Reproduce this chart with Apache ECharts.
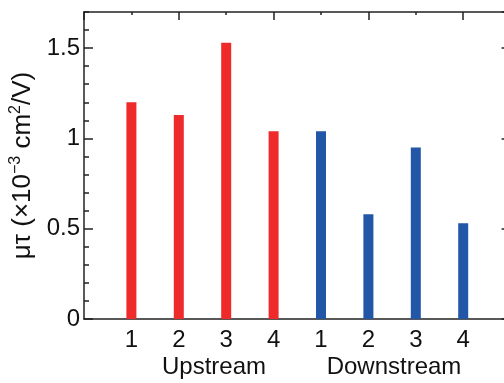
<!DOCTYPE html>
<html>
<head>
    <meta charset="utf-8">
    <title>mu tau</title>
    <script src="https://cdn.jsdelivr.net/npm/echarts@6/dist/echarts.min.js"></script>
    <style>
        html, body { margin: 0; padding: 0; background: #fff; }
        #chart1 { width: 504px; height: 383px; }
    </style>
</head>
<body>
<div id="chart1"></div>
<script type="text/javascript">
    // 数据
    var tickLabels = ['1', '2', '3', '4', '1', '2', '3', '4'];
    var groups = ['Upstream', 'Downstream'];
    var upstream = [1.20, 1.13, 1.53, 1.04];
    var downstream = [1.04, 0.58, 0.95, 0.53];

    var font = 'Liberation Sans, Arial, sans-serif';
    var lineColor = '#222';

    var upData = upstream.map(function (v, i) { return [i + 1, v]; });
    var downData = downstream.map(function (v, i) { return [i + 5, v]; });

    var myChart = echarts.init(document.getElementById('chart1'));

    var option = {
        animation: false,
        grid: { left: 84, right: -6.6, top: 12, bottom: 64, outerBoundsMode: 'none' },
        xAxis: [{
            type: 'value',
            position: 'bottom',
            min: 0, max: 9, interval: 1,
            splitLine: { show: false },
            axisLine: { onZero: false, lineStyle: { color: lineColor, width: 1.5 } },
            axisTick: { show: false },
            axisLabel: {
                color: '#111', fontSize: 24, fontFamily: font, margin: 9,
                formatter: function (v) {
                    return (v >= 1 && v <= 8) ? tickLabels[v - 1] : '';
                }
            }
        }, {
            type: 'value',
            position: 'top',
            min: 0, max: 9, interval: 2,
            splitLine: { show: false },
            axisLine: { onZero: false, lineStyle: { color: lineColor, width: 1.5 } },
            axisTick: { inside: true, length: 8, lineStyle: { color: lineColor, width: 1.5 } },
            minorTick: { show: true, splitNumber: 2, length: 3, lineStyle: { color: lineColor, width: 1.5 } },
            axisLabel: { show: false }
        }],
        yAxis: [{
            type: 'value',
            position: 'left',
            min: 0, max: 1.7, interval: 0.5,
            splitLine: { show: false },
            axisLine: { show: true, onZero: false, lineStyle: { color: lineColor, width: 1.5 } },
            axisTick: { inside: true, length: 9, lineStyle: { color: lineColor, width: 1.5 } },
            axisLabel: {
                color: '#111', fontSize: 24, fontFamily: font, margin: 4,
                showMaxLabel: false,
                formatter: function (v) { return String(v); }
            },
            name: '{a|μτ (×10}{s|−3}{a| cm}{s|2}{a|/V)}',
            nameLocation: 'middle',
            nameRotate: 90,
            nameGap: 32,
            nameTextStyle: {
                rich: {
                    a: { fontSize: 26, fontFamily: font, color: '#111', lineHeight: 30 },
                    s: { fontSize: 16, fontFamily: font, color: '#111', lineHeight: 16, verticalAlign: 'top' }
                }
            }
        }, {
            type: 'value',
            position: 'left',
            min: 0, max: 1.7, interval: 0.1,
            splitLine: { show: false },
            axisLine: { show: false },
            axisTick: { inside: true, length: 5, lineStyle: { color: lineColor, width: 1.5 } },
            axisLabel: { show: false }
        }, {
            type: 'value',
            position: 'right',
            min: 0, max: 1.7, interval: 0.5,
            splitLine: { show: false },
            axisLine: { show: true, onZero: false, lineStyle: { color: lineColor, width: 1.5 } },
            axisTick: { inside: true, length: 9, lineStyle: { color: lineColor, width: 1.5 } },
            axisLabel: { show: false }
        }],
        graphic: [{
            type: 'text', x: 214, y: 367,
            style: { text: groups[0], fontSize: 24, fontFamily: font, fill: '#111', align: 'center', verticalAlign: 'middle' }
        }, {
            type: 'text', x: 394, y: 367,
            style: { text: groups[1], fontSize: 24, fontFamily: font, fill: '#111', align: 'center', verticalAlign: 'middle' }
        }],
        series: [{
            name: groups[0],
            type: 'bar',
            xAxisIndex: 0, yAxisIndex: 0,
            barWidth: 10,
            barGap: '-100%',
            itemStyle: { color: '#ee2a2a' },
            data: upData
        }, {
            name: groups[1],
            type: 'bar',
            xAxisIndex: 0, yAxisIndex: 0,
            barWidth: 10,
            barGap: '-100%',
            itemStyle: { color: '#2256a6' },
            data: downData
        }]
    };
    myChart.setOption(option);
</script>
</body>
</html>
